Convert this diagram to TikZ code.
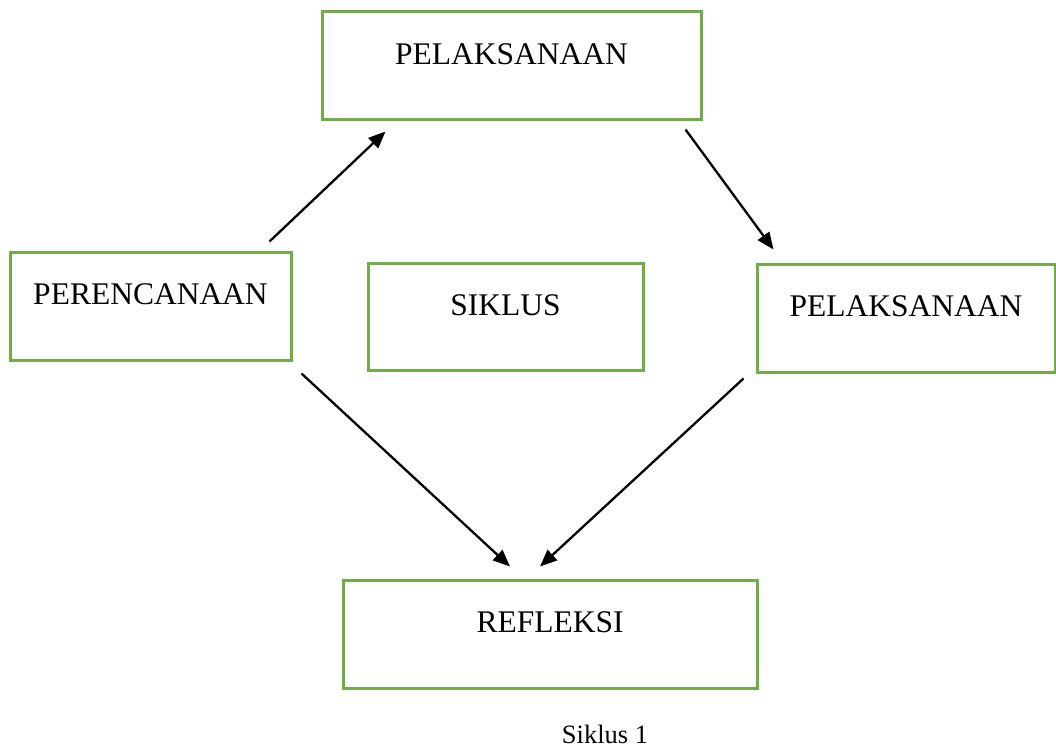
\documentclass[tikz,border=0pt]{standalone}
\usepackage{fontspec}
\setmainfont{Liberation Serif}
\usetikzlibrary{positioning,arrows.meta}
\definecolor{leaf}{HTML}{70AD47}
\definecolor{ink}{HTML}{000000}
\newcommand{\bg}{\fontsize{31.5pt}{36pt}\selectfont}
\tikzset{
  box/.style={draw=leaf, line width=3pt, fill=white, minimum height=108pt, inner sep=0pt},
  lab/.style={font=\bg, text=ink, inner sep=0pt},
  arr/.style={-{Triangle[length=17pt,width=14pt]}, line width=2.3pt, color=ink},
}

\begin{document}
\begin{tikzpicture}[x=1pt,y=-1pt]
    \useasboundingbox (0,0) rectangle (1056,751);
    \node[box, minimum width=281pt] (plan) at (150.5,306) {};
    \node[box, minimum width=379pt] (exec1) at (511.5,66) {};
    \node[box, minimum width=275pt, minimum height=107pt] (cyc) at (505.5,316.5) {};
    \node[box, minimum width=298pt] (exec2) at (906,318) {};
    \node[box, minimum width=414pt] (refl) at (550,634) {};
    \foreach \n/\t in {plan/PERENCANAAN,exec1/PELAKSANAAN,cyc/SIKLUS,exec2/PELAKSANAAN,refl/REFLEKSI}
      \node[lab] (\n-t) at ([yshift=-44pt]\n.north) {\t};
    \node[lab, font=\fontsize{26.5pt}{30pt}\selectfont] (cap) at (605,734) {Siklus 1};
    % arrows round the cycle
    \draw[arr] ([shift={(-23,-9)}]plan.north east) -- ([shift={(65,10)}]exec1.south west);
    \draw[arr] ([shift={(-17,8)}]exec1.south east) -- ([shift={(18,-13)}]exec2.north west);
    \draw[arr] ([shift={(9,12)}]plan.south east) -- ([shift={(-40,-12)}]refl.north);
    \draw[arr] ([shift={(-12,5)}]exec2.south west) -- ([shift={(-10,-12)}]refl.north);
\end{tikzpicture}
\end{document}
